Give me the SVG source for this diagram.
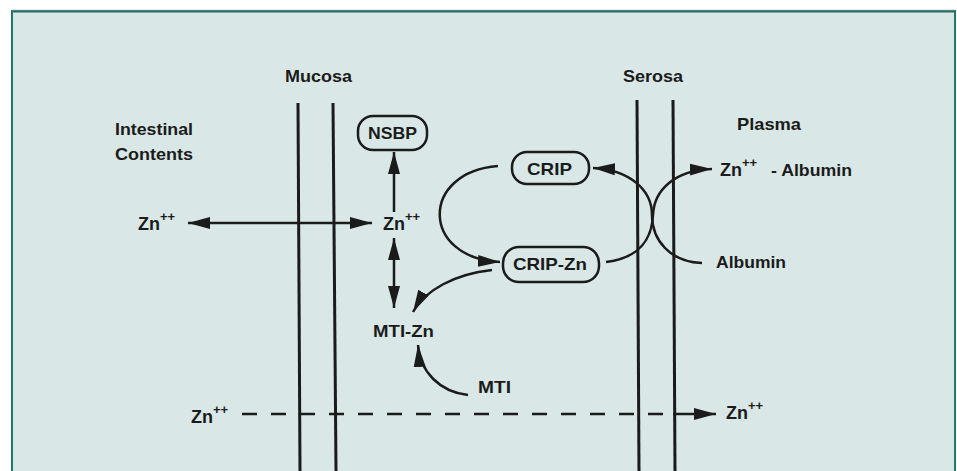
<svg xmlns="http://www.w3.org/2000/svg" width="957" height="471" viewBox="0 0 957 471">
<style>
text{font-family:"Liberation Sans",Arial,sans-serif;font-weight:bold;fill:#1b1b1b;font-size:17px}
.zn{font-size:18px}
.sup{font-size:13px}
.box{fill:none;stroke:#1b1b1b;stroke-width:2.5}
.mem{stroke:#1b1b1b;stroke-width:3;fill:none}
.c{stroke:#1b1b1b;stroke-width:2.5;fill:none}
.dash{stroke-dasharray:15 14}
</style>
<defs>
<marker id="ah" markerUnits="userSpaceOnUse" markerWidth="24" markerHeight="14" refX="22" refY="6" orient="auto-start-reverse" viewBox="0 0 24 12">
<path d="M0,0 L22,6 L0,12 z" fill="#1b1b1b"/>
</marker>
</defs>
<rect x="0" y="0" width="957" height="471" fill="#ffffff"/>
<rect x="12" y="11" width="943" height="470" fill="#d9e8e6" stroke="#1e7a70" stroke-width="2"/>
<line x1="12" y1="10" x2="955" y2="10" stroke="#c8cccc" stroke-width="1"/>
<line x1="12" y1="11.5" x2="955" y2="11.5" stroke="#2a6a66" stroke-width="2"/>

<g id="membranes">
<line class="mem" x1="298" y1="103" x2="300" y2="471"/>
<line class="mem" x1="333" y1="103" x2="336" y2="471"/>
<line class="mem" x1="637" y1="100" x2="639" y2="471"/>
<line class="mem" x1="673" y1="100" x2="675" y2="471"/>
</g>

<g id="labels">
<text x="285" y="82" font-size="18" textLength="67" lengthAdjust="spacingAndGlyphs">Mucosa</text>
<text x="623" y="82" font-size="18" textLength="60" lengthAdjust="spacingAndGlyphs">Serosa</text>
<text x="115" y="135" textLength="78" lengthAdjust="spacingAndGlyphs">Intestinal</text>
<text x="115" y="160" textLength="78" lengthAdjust="spacingAndGlyphs">Contents</text>
<text x="737" y="130" textLength="64" lengthAdjust="spacingAndGlyphs">Plasma</text>
</g>

<g id="zn-lumen"><text class="zn" x="138" y="230">Zn<tspan class="sup" dy="-9">++</tspan></text></g>
<g id="zn-cell"><text class="zn" x="383" y="230">Zn<tspan class="sup" dy="-9">++</tspan></text></g>
<g id="nsbp"><rect class="box" x="358" y="116" width="69" height="34" rx="15"/><text x="368" y="139" textLength="49" lengthAdjust="spacingAndGlyphs">NSBP</text></g>
<g id="crip"><rect class="box" x="512" y="152" width="77" height="32" rx="15"/><text x="527" y="175" textLength="45" lengthAdjust="spacingAndGlyphs">CRIP</text></g>
<g id="crip-zn"><rect class="box" x="503" y="247" width="96" height="35" rx="16"/><text x="513" y="270" textLength="74" lengthAdjust="spacingAndGlyphs">CRIP-Zn</text></g>
<g id="mti-zn"><text x="373" y="337" textLength="61" lengthAdjust="spacingAndGlyphs">MTI-Zn</text></g>
<g id="mti"><text x="478" y="393" textLength="33" lengthAdjust="spacingAndGlyphs">MTI</text></g>
<g id="zn-albumin"><text class="zn" x="720" y="176">Zn<tspan class="sup" dy="-9">++</tspan><tspan dy="9" x="771" font-size="17" textLength="81" lengthAdjust="spacingAndGlyphs">- Albumin</tspan></text></g>
<g id="albumin"><text x="716" y="268" textLength="70" lengthAdjust="spacingAndGlyphs">Albumin</text></g>
<g id="zn-bottom-left"><text class="zn" x="191" y="423">Zn<tspan class="sup" dy="-9">++</tspan></text></g>
<g id="zn-bottom-right"><text class="zn" x="726" y="419">Zn<tspan class="sup" dy="-9">++</tspan></text></g>

<g id="connectors">
<path class="c" d="M188,223 L372,223" marker-start="url(#ah)" marker-end="url(#ah)"/>
<path class="c" d="M394,212 L394,152" marker-end="url(#ah)"/>
<path class="c" d="M394,238 L394,308" marker-start="url(#ah)" marker-end="url(#ah)"/>
<path class="c" d="M498,166 C420,172 420,258 500,262" marker-end="url(#ah)"/>
<path class="c" d="M606,262 C640,258 652,238 653,215 C654,190 675,170 712,169" marker-end="url(#ah)"/>
<path class="c" d="M702,263 C670,262 652,240 652,215 C652,190 630,170 593,168" marker-end="url(#ah)"/>
<path class="c" d="M492,270 C455,274 425,290 413,312" marker-end="url(#ah)"/>
<path class="c" d="M468,395 C440,392 420,372 418,345" marker-end="url(#ah)"/>
<path class="c dash" d="M242,414 L664,414"/>
<path class="c" d="M673,414 L716,414" marker-end="url(#ah)"/>
</g>
</svg>
